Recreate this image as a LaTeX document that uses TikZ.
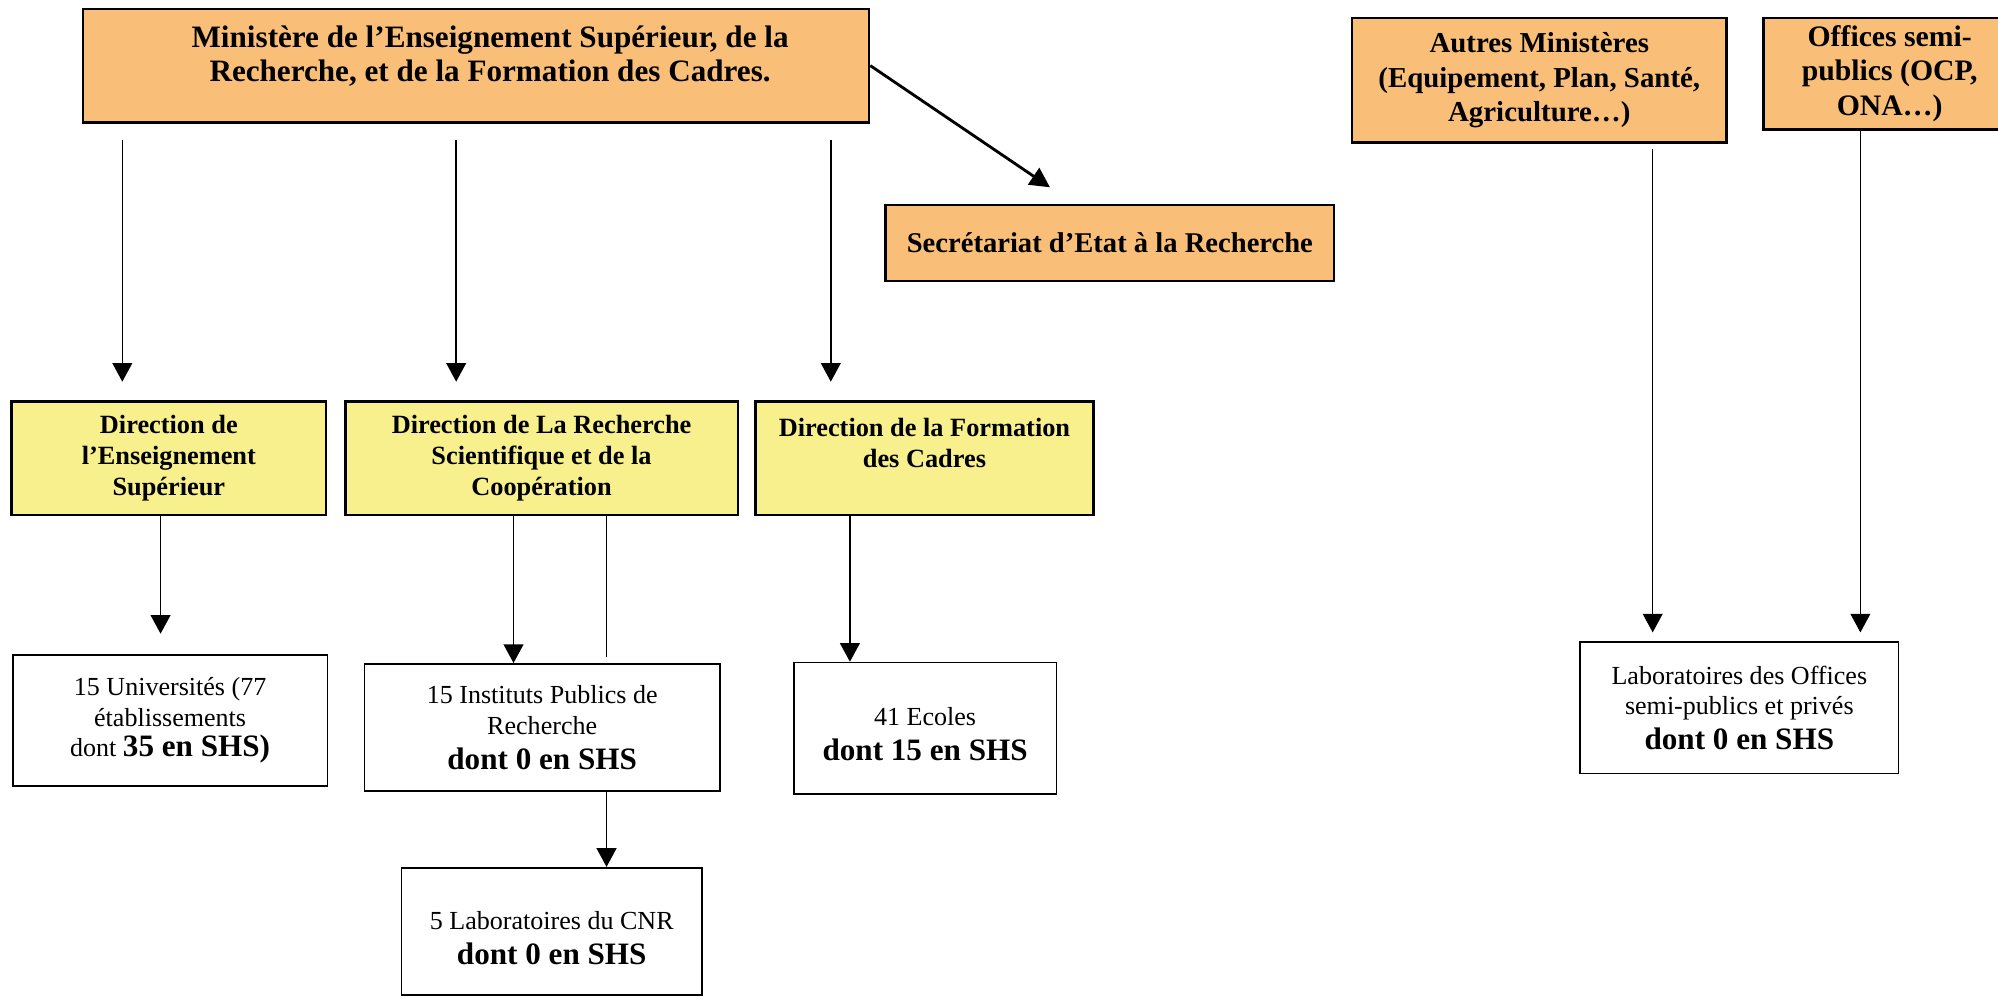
\documentclass[tikz,border=0pt]{standalone}
\usepackage{fontspec}
\setmainfont{Liberation Serif}
\usetikzlibrary{arrows.meta,positioning}

\definecolor{orangebox}{RGB}{249,191,120}
\definecolor{yellowbox}{RGB}{247,240,140}
\newcommand{\lowpad}[1]{\rule[-#1]{0pt}{#1}}
\newcommand{\leftpad}{\hspace*{10pt}}
\newcommand{\shs}[1]{{\bfseries\fontsize{11}{12.6}\selectfont #1}}

\tikzset{
  boxsize/.style 2 args={minimum width=#1*0.45pt, minimum height=#2*0.45pt},
  minbox/.style={draw, line width=0.9pt, fill=orangebox, align=center, inner sep=0pt, font=\bfseries\fontsize{11}{12.15}\selectfont},
  smallmin/.style={font=\bfseries\fontsize{#1}{12.15}\selectfont},
  dirbox/.style={draw, line width=0.9pt, fill=yellowbox, align=center, inner sep=0pt, font=\bfseries\fontsize{9.3}{11}\selectfont},
  etabbox/.style={draw, line width=0.6pt, fill=white, align=center, inner sep=0pt, font=\fontsize{9.2}{10.8}\selectfont},
  arr/.style={-{Triangle[length=6.6pt,width=7pt]}, line width=0.55pt},
}

\begin{document}
\begin{tikzpicture}[x=0.45pt, y=-0.45pt]
        \useasboundingbox (0,0) rectangle (1568,783);

        \node[minbox, boxsize={617}{89}] (min) at (373.5,51.5) {\leftpad Ministère de l’Enseignement Supérieur, de la\\\leftpad Recherche, et de la Formation des Cadres.\lowpad{8.5pt}};
        \node[minbox, smallmin=10.1, boxsize={352}{59.5}] (sec) at (871,190.75) {Secrétariat d’Etat à la Recherche};
        \node[minbox, smallmin=10.2, boxsize={294}{98}] (autres) at (1208,63) {Autres Ministères\\(Equipement, Plan, Santé,\\Agriculture…)};
        \node[minbox, smallmin=10.5, boxsize={198}{87.5}] (offices) at (1483,57.75) {Offices semi-\\publics (OCP,\\ONA…)};

        \node[dirbox, boxsize={247}{89}] (des) at (132.5,359.5) {Direction de\\l’Enseignement\\Supérieur};
        \node[dirbox, boxsize={308}{89}] (drsc) at (425,359.5) {Direction de La Recherche\\Scientifique et de la\\Coopération};
        \node[dirbox, boxsize={265}{89}] (dfc) at (725.5,359.5) {Direction de la Formation\\des Cadres\\\mbox{}};

        \node[etabbox, boxsize={247}{103}] (univ) at (133.5,565.5) {15 Universités (77\\établissements\\dont \shs{35 en SHS)}};
        \node[etabbox, boxsize={279}{100}] (inst) at (425.5,571) {15 Instituts Publics de\\Recherche\\[1.6pt]\shs{dont 0 en SHS}};
        \node[etabbox, boxsize={236}{100}] (cnr) at (433,731) {\mbox{}\\5 Laboratoires du CNR\\[1.6pt]\shs{dont 0 en SHS}};
        \node[etabbox, boxsize={206}{103}] (ecoles) at (726,571.5) {\mbox{}\\41 Ecoles\\[1.6pt]\shs{dont 15 en SHS}};
        \node[etabbox, boxsize={250}{103}] (labo) at (1365,555.5) {Laboratoires des Offices\\semi-publics et privés\\[1.6pt]\shs{dont 0 en SHS}};

        \coordinate (g1) at (96,0);
        \coordinate (g2) at (358,0);
        \coordinate (g3) at (652,0);
        \coordinate (g4) at (126,0);
        \coordinate (g5) at (403,0);
        \coordinate (g6) at (476,0);
        \coordinate (g7) at (667,0);
        \coordinate (g8) at (1297,0);
        \coordinate (g9) at (1460,0);
        \coordinate (tipsec) at (824,147);

        \draw[arr, shorten <=5.85pt, shorten >=6.5pt] (min.south -| g1) -- (des.north -| g1);
        \draw[arr, shorten <=5.85pt, shorten >=6.5pt] (min.south -| g2) -- (drsc.north -| g2);
        \draw[arr, shorten <=5.85pt, shorten >=6.5pt] (min.south -| g3) -- (dfc.north -| g3);
        \draw[arr, line width=1pt, -{Triangle[length=7pt,width=7pt]}] (min.east) -- (tipsec);

        \draw[arr, shorten >=7.2pt] (des.south -| g4) -- (univ.north -| g4);
        \draw[arr] (drsc.south -| g5) -- (inst.north -| g5);
        \draw[line width=0.55pt, shorten >=2.25pt] (drsc.south -| g6) -- (inst.north -| g6);
        \draw[arr] (inst.south -| g6) -- (cnr.north -| g6);
        \draw[arr] (dfc.south -| g7) -- (ecoles.north -| g7);

        \draw[arr, shorten <=1.8pt, shorten >=3.15pt] (autres.south -| g8) -- (labo.north -| g8);
        \draw[arr, shorten >=3.15pt] (offices.south -| g9) -- (labo.north -| g9);
    \end{tikzpicture}
\end{document}
